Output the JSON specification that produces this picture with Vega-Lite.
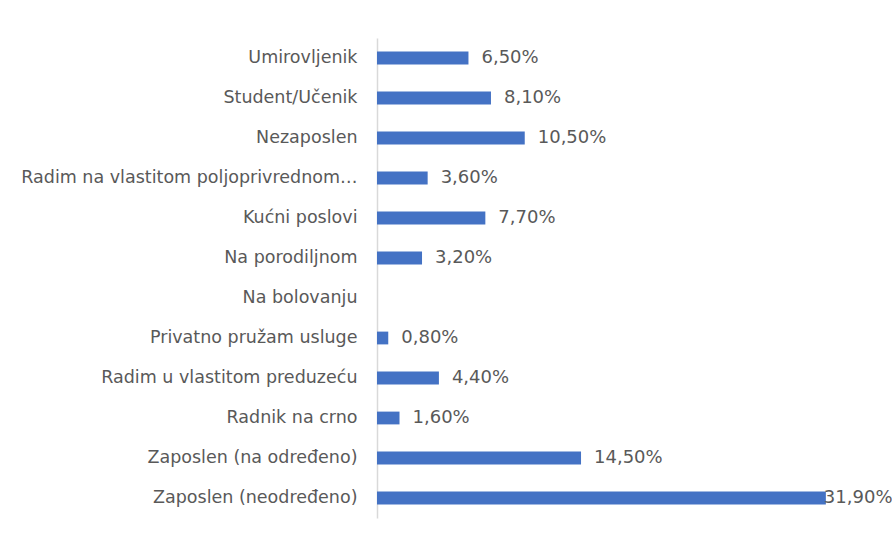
{
  "$schema": "https://vega.github.io/schema/vega-lite/v6.json",
  "autosize": "none",
  "width": 515,
  "height": 480,
  "padding": {"left": 377, "top": 38, "right": 0, "bottom": 20},
  "background": "white",
  "config": {"view": {"stroke": null}},
  "data": {"values": [
    {"status": "Umirovljenik", "value": 6.5, "label": "6,50%"},
    {"status": "Student/Učenik", "value": 8.1, "label": "8,10%"},
    {"status": "Nezaposlen", "value": 10.5, "label": "10,50%"},
    {"status": "Radim na vlastitom poljoprivrednom…", "value": 3.6, "label": "3,60%"},
    {"status": "Kućni poslovi", "value": 7.7, "label": "7,70%"},
    {"status": "Na porodiljnom", "value": 3.2, "label": "3,20%"},
    {"status": "Na bolovanju", "value": 0, "label": ""},
    {"status": "Privatno pružam usluge", "value": 0.8, "label": "0,80%"},
    {"status": "Radim u vlastitom preduzeću", "value": 4.4, "label": "4,40%"},
    {"status": "Radnik na crno", "value": 1.6, "label": "1,60%"},
    {"status": "Zaposlen (na određeno)", "value": 14.5, "label": "14,50%"},
    {"status": "Zaposlen (neodređeno)", "value": 31.9, "label": "31,90%"}
  ]},
  "encoding": {
    "y": {
      "field": "status", "type": "nominal", "sort": null,
      "scale": {"paddingInner": 0.68, "paddingOuter": 0.34},
      "axis": {
        "title": null, "ticks": false, "labelPadding": 20,
        "labelFont": "DejaVu Sans", "labelFontSize": 17.5, "labelColor": "#595959",
        "domainColor": "#d9d9d9", "domainWidth": 1.5, "labelLimit": 400
      }
    },
    "x": {
      "field": "value", "type": "quantitative",
      "scale": {"domain": [0, 36.6], "nice": false},
      "axis": null
    }
  },
  "layer": [
    {"mark": {"type": "bar", "color": "#4472C4"}},
    {
      "transform": [{"filter": "datum.value < 30"}],
      "mark": {"type": "text", "align": "left", "dx": 13, "font": "DejaVu Sans", "fontSize": 18, "color": "#595959"},
      "encoding": {"text": {"field": "label"}}
    },
    {
      "transform": [{"filter": "datum.value >= 30"}],
      "mark": {"type": "text", "align": "left", "dx": -2, "font": "DejaVu Sans", "fontSize": 18, "color": "#595959"},
      "encoding": {"text": {"field": "label"}}
    }
  ]
}
